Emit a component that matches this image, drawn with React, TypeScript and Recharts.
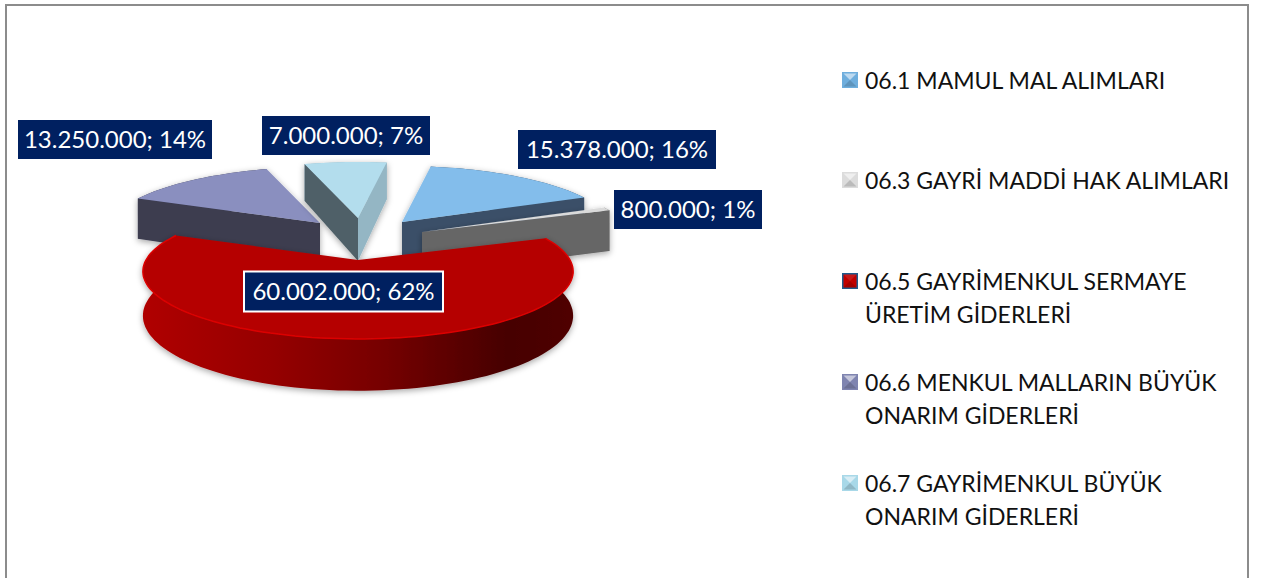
import { Legend, Pie, PieChart } from "recharts";

const CATEGORIES = [
  "06.1 MAMUL MAL ALIMLARI",
  "06.3 GAYRİ MADDİ HAK ALIMLARI",
  "06.5 GAYRİMENKUL SERMAYE ÜRETİM GİDERLERİ",
  "06.6 MENKUL MALLARIN BÜYÜK ONARIM GİDERLERİ",
  "06.7 GAYRİMENKUL BÜYÜK ONARIM GİDERLERİ",
];
const VALUES = [15378000, 800000, 60002000, 13250000, 7000000];
// slices are painted back to front, so the big red one has to come last
const DRAW_ORDER = [3, 4, 0, 1, 2];

const TOP_COLORS = ["#83BDEB", "#DADADA", "#B50000", "#8A8FBF", "#B3DDED"];
const START_FACE = ["#3A5068", "#666666", "#7A0000", "#3C3C50", "#4F6068"];
const END_FACE = ["#3A5068", "#666666", "#7A0000", "#3C3C50", "#94B6C4"];
const MARKER_COLORS = ["#6FAEDD", "#DCDCDC", "#C00000", "#7F84B0", "#A8D8E8"];

const EXPLODE: [number, number][] = [[44, -38], [64, -28], [0, 0], [-38, -37], [0, -42]];
const LABEL_POS: [number, number][] = [[617, 149.5], [688, 209.5], [343.5, 291.5], [115, 139.5], [346, 135.5]];
const LABEL_W = [198, 148, 199, 194, 168];
const LEGEND_TOPS = [64, 164, 265, 366, 467];

const W = 1261;
const H = 578;
const CX = 358;
const CY = 260;
const R = 212;
// cheap perspective for the tilted disc
const PERSP = 0.17;
const TILT = 0.309;
const DEPTH = 43;
const FONT = "Lato, 'Open Sans', sans-serif";

const data = DRAW_ORDER.map((i) => ({ name: CATEGORIES[i], value: VALUES[i] }));

function pt(angle: number, r: number, dx: number, dy: number, z: number) {
  const a = (angle * Math.PI) / 180;
  const u = r * Math.cos(a);
  const v = r * Math.sin(a);
  const d = 1 + PERSP * v;
  return [CX + dx + (R * u) / d, CY + dy - (R * TILT * v) / d + z / d];
}

function toPath(points: number[][]) {
  return "M" + points.map((p) => p[0].toFixed(1) + " " + p[1].toFixed(1)).join("L") + "Z";
}

function SliceShape(props: any) {
  const i = CATEGORIES.indexOf(props.name);
  const [dx, dy] = EXPLODE[i];
  const { startAngle, endAngle } = props;
  const steps = Math.max(2, Math.ceil(Math.abs(startAngle - endAngle) / 2));
  const angles = Array.from({ length: steps + 1 }, (_, k) => startAngle + ((endAngle - startAngle) * k) / steps);

  const top = angles.map((a) => pt(a, 1, dx, dy, 0));
  const bottom = angles.map((a) => pt(a, 1, dx, dy, DEPTH));
  const apexTop = pt(0, 0, dx, dy, 0);
  const apexBottom = pt(0, 0, dx, dy, DEPTH);

  // clockwise from north, a radial face only shows when it turns toward the viewer
  const startTheta = ((90 - startAngle) * Math.PI) / 180;
  const endTheta = ((90 - endAngle) * Math.PI) / 180;
  const showStart = Math.sin(startTheta) < 0;
  const showEnd = Math.sin(endTheta) > 0;
  const isRed = i === 2;

  return (
    <g filter="url(#pieShadow)">
      <path d={toPath([...top, ...[...bottom].reverse()])} fill={isRed ? "url(#redSide)" : END_FACE[i]} />
      {showStart && (
        <path d={toPath([apexTop, top[0], bottom[0], apexBottom])} fill={START_FACE[i]} />
      )}
      {showEnd && (
        <path d={toPath([apexTop, top[steps], bottom[steps], apexBottom])} fill={END_FACE[i]} />
      )}
      <path d={toPath([apexTop, ...top])} fill={TOP_COLORS[i]} />
      {isRed && (
        <path
          d={"M" + top.map((p) => p[0].toFixed(1) + " " + p[1].toFixed(1)).join("L")}
          fill="none"
          stroke="#DC0000"
          strokeWidth={1.5}
        />
      )}
    </g>
  );
}

function sliceLabel(props: any) {
  const i = CATEGORIES.indexOf(props.name);
  const [x, y] = LABEL_POS[i];
  const isRed = i === 2;
  const w = LABEL_W[i];
  const h = isRed ? 40 : 39;
  const text = String(VALUES[i]).replace(/\B(?=(\d{3})+$)/g, ".") + "; " + Math.round(props.percent * 100) + "%";
  return (
    <g key={props.name}>
      <rect
        x={x - w / 2}
        y={y - h / 2}
        width={w}
        height={h}
        fill="#002060"
        stroke={isRed ? "#FFFFFF" : "none"}
        strokeWidth={2}
      />
      <text
        x={x}
        y={y + 8.5}
        textAnchor="middle"
        fill="#FFFFFF"
        fontSize={24}
        fontFamily={FONT}
      >
        {text}
      </text>
    </g>
  );
}

function Marker({ i }: { i: number }) {
  const c = MARKER_COLORS[i];
  const red = i === 2;
  return (
    <svg width={18} height={18} style={{ position: "absolute", left: 0, top: 7 }}>
      <rect x={1} y={1} width={16} height={16} fill={red ? "#1F5A8C" : c} />
      <rect x={2.5} y={2.5} width={13} height={13} fill={c} />
      <polygon points="2.5,2.5 15.5,2.5 9,9" fill="#FFFFFF" opacity={red ? 0.1 : 0.55} />
      <polygon points="2.5,15.5 15.5,15.5 9,9" fill="#000000" opacity={0.15} />
    </svg>
  );
}

function LegendList({ payload }: any) {
  const items = [...(payload ?? [])].sort(
    (a: any, b: any) => CATEGORIES.indexOf(a.value) - CATEGORIES.indexOf(b.value)
  );
  return (
    <div>
      {items.map((entry: any) => {
        const i = CATEGORIES.indexOf(entry.value);
        return (
          <div
            key={entry.value}
            style={{
              position: "absolute",
              left: 841,
              top: LEGEND_TOPS[i],
              width: 390,
              paddingLeft: 24,
              boxSizing: "border-box",
              fontFamily: FONT,
              fontSize: 23,
              lineHeight: "33px",
              color: "#111111",
              textAlign: "left",
            }}
          >
            <Marker i={i} />
            {entry.value}
          </div>
        );
      })}
    </div>
  );
}

export default function App() {
  return (
    <div style={{ position: "absolute", left: 0, top: 0, width: W, height: H, overflow: "hidden", background: "#FFFFFF" }}>
      <div
        style={{
          position: "absolute",
          left: 5,
          top: 4,
          width: 1240,
          height: 600,
          border: "2px solid #8C8C8C",
        }}
      />
      <PieChart width={W} height={H} margin={{ top: 0, right: 0, bottom: 0, left: 0 }}>
        <defs>
          <linearGradient id="redSide" x1="0" y1="0" x2="1" y2="0">
            <stop offset="0" stopColor="#B00000" />
            <stop offset="0.3" stopColor="#950000" />
            <stop offset="0.55" stopColor="#770000" />
            <stop offset="0.85" stopColor="#460000" />
            <stop offset="1" stopColor="#500000" />
          </linearGradient>
          <filter id="pieShadow" x="-10%" y="-10%" width="120%" height="125%">
            <feDropShadow dx={0} dy={2} stdDeviation={3} floodColor="#000000" floodOpacity={0.35} />
          </filter>
        </defs>
        <Pie
          data={data}
          dataKey="value"
          nameKey="name"
          cx={CX}
          cy={CY}
          innerRadius={0}
          outerRadius={R}
          startAngle={156.5}
          endAngle={-203.5}
          stroke="none"
          labelLine={false}
          label={sliceLabel}
          shape={SliceShape}
          isAnimationActive={false}
        />
        <Legend content={LegendList} wrapperStyle={{ position: "absolute", left: 0, top: 0, width: 0, height: 0 }} />
      </PieChart>
    </div>
  );
}
